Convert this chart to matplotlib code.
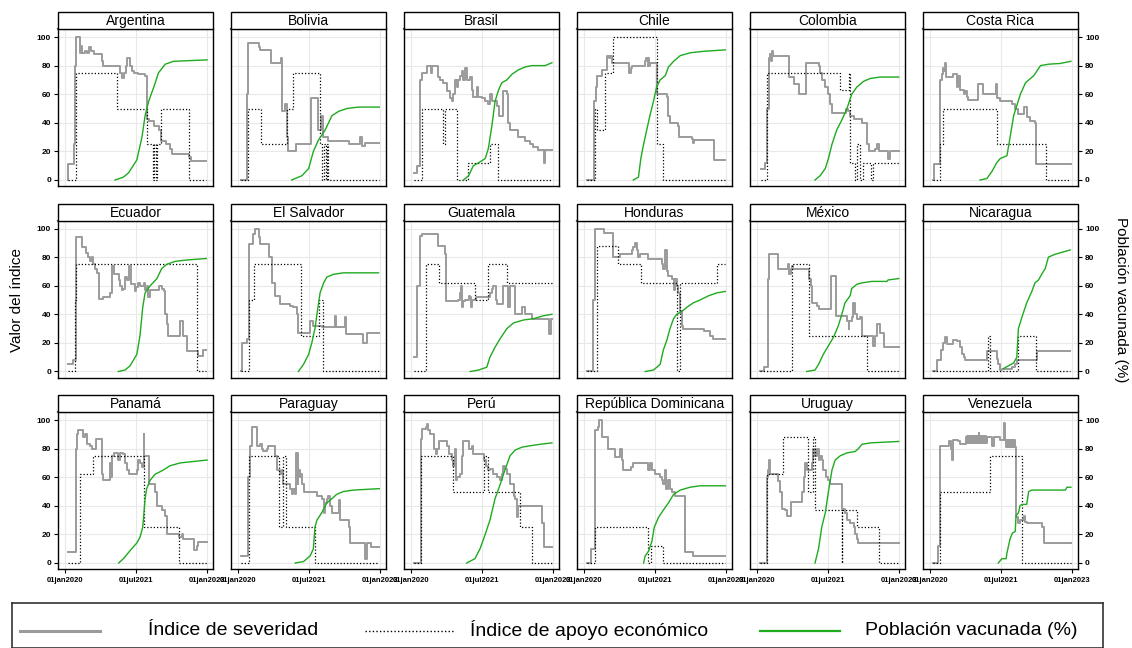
import matplotlib
matplotlib.use("Agg")
import matplotlib.pyplot as plt
from matplotlib.patches import Rectangle

plt.rcParams["font.family"] = ["Liberation Sans", "DejaVu Sans"]

# x values are months since 01jan2020, y values are index / percent
countries = ["Argentina", "Bolivia", "Brasil", "Chile", "Colombia", "Costa Rica",
             "Ecuador", "El Salvador", "Guatemala", "Honduras", "México", "Nicaragua",
             "Panamá", "Paraguay", "Perú", "República Dominicana", "Uruguay", "Venezuela"]
tick_months = [0, 18, 36]
tick_labels = ["01jan2020", "01jul2021", "01jan2023"]
y_ticks = [0, 20, 40, 60, 80, 100]

arg_sev = [(0.8, 0), (0.85, 11), (2.2, 11), (2.35, 25), (2.5, 80), (2.7, 100), (3.8, 100), (3.9, 89), (4.1, 94),
           (4.4, 89), (5.0, 90), (5.5, 89), (6.2, 93), (6.6, 90), (7.4, 88), (9.3, 88), (9.4, 83), (9.7, 80),
           (12.7, 80), (14.0, 75), (14.4, 71), (15.0, 75), (15.4, 80), (15.8, 85), (16.4, 80), (16.9, 76),
           (17.4, 75), (18.6, 74), (20.3, 73), (20.8, 43), (21.2, 41), (22.5, 38), (23.7, 35), (24.2, 27),
           (25.7, 25), (26.7, 22), (27.1, 18), (30.9, 18), (31.4, 16), (31.8, 13), (35.6, 13)]
arg_eco = [(0.8, 0), (2.8, 75), (13.3, 50), (20.8, 25), (22.2, 0), (22.6, 25), (23.0, 0), (23.4, 25),
           (24.2, 50), (31.4, 0), (35.6, 0)]
arg_vac = [(12.7, 0), (14.8, 2), (16.1, 5), (18.2, 14), (19.5, 30), (20.3, 45), (21.2, 55), (22.5, 65),
           (23.7, 75), (25.4, 81), (27.5, 83), (36, 84)]

bol_sev = [(0.76, 0), (2.2, 0), (2.4, 60), (2.6, 96), (4.7, 96), (5.2, 93), (5.6, 91), (8.1, 91), (8.3, 82),
           (10.7, 82), (10.8, 85), (11.1, 48), (11.9, 53), (12.3, 30), (12.7, 20), (14.5, 20), (14.6, 25),
           (18.3, 25), (18.6, 57), (20.0, 57), (20.3, 35), (21.1, 45), (21.6, 30), (22.9, 27), (27.6, 27),
           (28.0, 25), (30.1, 25), (31.0, 30), (31.4, 24), (32.2, 26), (35.8, 26)]
bol_eco = [(0.76, 0), (2.6, 50), (5.8, 25), (12.4, 50), (13.9, 75), (20.8, 25), (21.3, 0), (21.7, 25),
           (22.2, 0), (22.5, 25), (22.9, 0), (35.6, 0)]
bol_vac = [(13.6, 0), (16.2, 3), (17.9, 8), (19.1, 20), (20.4, 28), (22.1, 35), (23.8, 45), (25.5, 48),
           (27.6, 50), (30.5, 51), (35.8, 51)]

bra_sev = [(0.85, 5), (1.4, 10), (2.3, 70), (2.7, 75), (3.6, 75), (4.0, 80), (4.8, 80), (5.0, 75), (5.3, 80),
           (6.5, 80), (6.9, 72), (7.4, 70), (8.2, 68), (9.1, 62), (9.9, 57), (10.3, 55), (10.7, 60), (11.2, 70),
           (11.6, 65), (12.0, 70), (12.4, 73), (12.9, 76), (13.3, 70), (13.7, 78), (14.1, 70), (15.0, 72),
           (15.4, 63), (15.8, 58), (16.3, 58), (16.7, 65), (17.1, 58), (17.9, 57), (18.8, 55), (19.6, 53),
           (20.1, 60), (20.5, 55), (21.3, 55), (21.7, 52), (22.2, 45), (23.0, 45), (23.4, 62), (24.3, 60),
           (24.5, 40), (25.1, 35), (26.4, 35), (27.2, 30), (28.9, 27), (30.2, 25), (31.0, 23), (32.3, 21),
           (33.6, 21), (33.8, 12), (34.0, 21), (35.7, 21)]
bra_eco = [(0.85, 0), (2.7, 50), (8.2, 25), (8.6, 50), (11.6, 0), (14.4, 12), (20.1, 25), (22.1, 0), (35.6, 0)]
bra_vac = [(13.3, 0), (14.6, 3), (15.8, 10), (17.1, 12), (18.8, 15), (19.6, 22), (20.5, 38), (21.3, 55),
           (22.2, 63), (23.0, 68), (24.3, 70), (25.6, 74), (27.2, 77), (28.9, 79), (30.6, 80), (34.0, 80),
           (35.7, 82)]

chi_sev = [(0.7, 0), (2.5, 0), (2.6, 55), (3.0, 65), (3.2, 73), (4.5, 77), (5.8, 78), (5.9, 87), (6.3, 85),
           (6.6, 87), (7.0, 82), (11.0, 82), (11.3, 78), (11.5, 75), (11.8, 78), (12.1, 80), (15.2, 80),
           (15.5, 83), (15.7, 85), (16.1, 80), (16.3, 85), (16.5, 80), (16.8, 82), (18.3, 82), (18.6, 60),
           (21.0, 58), (21.2, 45), (21.8, 40), (23.9, 38), (24.1, 30), (27.3, 29), (27.6, 26), (27.9, 28),
           (32.8, 28), (33.0, 14), (35.8, 14)]
chi_eco = [(0.7, 0), (2.8, 50), (3.2, 35), (5.3, 75), (7.3, 100), (18.6, 25), (20.0, 0), (35.8, 0)]
chi_vac = [(12.5, 0), (13.8, 2), (14.4, 15), (15.1, 25), (15.9, 35), (16.7, 45), (17.6, 55), (18.4, 65),
           (19.3, 70), (20.6, 73), (21.4, 79), (22.7, 83), (24.4, 87), (27, 89), (30.3, 90), (35.8, 91)]

col_sev = [(0.9, 8), (1.8, 8), (2.0, 12), (2.5, 12), (2.6, 50), (3.0, 85), (3.3, 88), (3.6, 83), (3.8, 90),
           (4.1, 87), (8.0, 87), (8.1, 72), (9.4, 72), (9.5, 67), (10.5, 67), (10.7, 60), (12.2, 60), (12.4, 82),
           (15.1, 82), (15.6, 80), (16.0, 75), (16.4, 70), (17.3, 65), (18.1, 60), (18.5, 53), (19.0, 47),
           (22.3, 47), (22.6, 50), (23.0, 48), (23.6, 45), (24.5, 43), (26.1, 43), (26.6, 40), (27.4, 40),
           (27.8, 25), (28.3, 20), (29.9, 22), (30.4, 25), (30.8, 20), (32.9, 20), (33.3, 15), (33.8, 20),
           (35.9, 20)]
col_eco = [(0.9, 0), (2.6, 75), (21.1, 63), (23.4, 75), (23.6, 12), (24.9, 0), (25.4, 25), (26.0, 0),
           (26.8, 12), (29.0, 0), (29.3, 12), (35.9, 12)]
col_vac = [(14.7, 0), (16, 3), (17.3, 8), (18.1, 15), (19, 25), (20.2, 35), (21.5, 42), (22.8, 50), (24, 60),
           (25.3, 65), (27, 69), (28.7, 71), (31.2, 72), (35.9, 72)]

cri_sev = [(0.85, 0), (1.1, 11), (2.3, 11), (2.5, 70), (3.0, 74), (3.2, 78), (3.6, 76), (3.8, 82), (4.1, 72),
           (5.5, 72), (5.9, 74), (6.8, 74), (6.9, 65), (7.2, 73), (7.6, 63), (8.5, 60), (8.9, 62), (9.3, 58),
           (9.7, 56), (11.8, 56), (12.1, 67), (13.1, 67), (13.4, 60), (16.5, 60), (16.8, 67), (17.1, 57),
           (17.8, 55), (19.5, 55), (20.7, 53), (21.6, 50), (22.4, 46), (23.3, 46), (23.7, 51), (24.5, 44),
           (25.4, 41), (26.6, 40), (26.9, 11), (35.7, 11)]
cri_eco = [(0.85, 0), (2.5, 25), (3.2, 50), (16.9, 25), (29.5, 0), (35.4, 0)]
cri_vac = [(12.7, 0), (14.4, 1), (15.7, 6), (16.9, 12), (17.8, 15), (19.5, 17), (20.3, 30), (21.2, 45),
           (22, 52), (22.9, 60), (24.2, 68), (26.3, 73), (28, 80), (30.1, 81), (33, 81.5), (35.7, 83)]

ecu_sev = [(0.85, 5), (1.9, 5), (2.1, 8), (2.5, 8), (2.7, 60), (2.8, 94), (4.2, 94), (4.3, 87), (5.1, 87),
           (5.3, 83), (5.9, 80), (6.3, 77), (6.8, 80), (7.0, 75), (7.6, 72), (8.0, 69), (8.5, 51), (9.7, 52),
           (11.0, 52), (11.3, 55), (11.7, 55), (11.8, 74), (12.3, 68), (13.5, 68), (13.8, 64), (14.0, 60),
           (14.4, 57), (14.8, 58), (15.2, 66), (15.7, 64), (16.1, 74), (16.5, 74), (16.8, 61), (17.8, 56),
           (18.0, 59), (18.4, 62), (19.0, 60), (19.9, 62), (20.3, 57), (20.7, 60), (21.0, 52), (21.6, 57),
           (23.7, 57), (23.9, 60), (24.5, 58), (25.0, 56), (25.4, 40), (25.8, 33), (26.2, 25), (28.8, 25),
           (29.2, 35), (29.6, 35), (29.9, 25), (30.7, 25), (30.9, 14), (33.4, 14), (33.6, 11), (34.7, 11),
           (34.9, 15), (35.8, 15)]
ecu_eco = [(0.85, 0), (2.5, 50), (2.9, 75), (33.4, 0), (35.8, 0)]
ecu_vac = [(13.5, 0), (15.2, 1), (16.5, 4), (18.2, 12), (19, 25), (19.7, 45), (20.3, 55), (21.6, 60),
           (23.3, 65), (24.5, 72), (25.8, 75), (27.9, 77), (30.9, 78), (35.8, 79)]

slv_sev = [(0.7, 0), (0.9, 20), (2.2, 20), (2.4, 23), (2.8, 89), (3.5, 89), (3.9, 96), (4.3, 100), (4.9, 100),
           (5.2, 94), (5.6, 89), (7.7, 89), (7.9, 80), (8.5, 62), (9.4, 53), (10.7, 47), (13.2, 46), (14.0, 45),
           (14.9, 40), (15.3, 27), (17.4, 27), (18.3, 35), (18.7, 35), (19.1, 32), (21.2, 31), (24.2, 31),
           (24.5, 39), (24.9, 31), (26.7, 31), (27.0, 38), (27.3, 26), (31.4, 26), (31.6, 20), (32.5, 20),
           (32.7, 27), (35.6, 27)]
slv_eco = [(0.7, 0), (2.8, 50), (4.0, 75), (15.9, 25), (20.6, 50), (21.6, 0), (35.6, 0)]
slv_vac = [(15.3, 0), (16.6, 5), (17.9, 12), (18.7, 20), (19.5, 30), (20, 40), (20.8, 55), (21.7, 62),
           (22.5, 66), (24.2, 68), (26.7, 69), (35.6, 69)]

gtm_sev = [(0.85, 10), (1.3, 10), (1.4, 60), (2.3, 95), (2.7, 96), (6.5, 96), (6.9, 88), (8.2, 88), (8.6, 82),
           (8.9, 49), (11.6, 49), (12.0, 50), (12.3, 55), (12.6, 60), (12.9, 45), (13.3, 49), (13.7, 50),
           (14.6, 53), (15.0, 52), (15.1, 45), (15.4, 50), (16.2, 50), (16.5, 52), (19.6, 52), (19.9, 55),
           (20.5, 58), (20.7, 60), (21.3, 60), (21.6, 50), (21.7, 47), (23.0, 47), (23.4, 60), (24.3, 60),
           (24.5, 45), (25.1, 60), (26.0, 60), (26.4, 40), (27.7, 40), (28.1, 45), (28.9, 40), (30.2, 40),
           (30.6, 37), (34.4, 37), (34.9, 26), (35.4, 26), (35.5, 37), (35.7, 37)]
gtm_eco = [(0.85, 0), (3.8, 75), (7.2, 62), (16.2, 50), (19.6, 75), (24.3, 62), (36, 62)]
gtm_vac = [(15, 0), (17.1, 1), (19.2, 3), (20, 10), (21.3, 17), (22.6, 23), (24.3, 30), (26, 34), (28.5, 36),
           (31.1, 37), (33.6, 39), (35.7, 40)]

hnd_sev = [(0.85, 0), (2.1, 0), (2.4, 50), (2.8, 100), (4.9, 100), (5.1, 97), (7.0, 97), (7.3, 88), (7.4, 80),
           (8.7, 80), (9.1, 82), (11.7, 82), (12.1, 85), (12.5, 87), (12.9, 90), (13.4, 85), (13.8, 80),
           (14.2, 82), (15.9, 82), (16.3, 79), (19.3, 79), (19.7, 75), (20.1, 72), (20.4, 80), (20.6, 85),
           (21.0, 70), (21.4, 67), (22.3, 65), (22.7, 57), (23.1, 65), (23.5, 60), (23.9, 55), (24.4, 42),
           (24.8, 32), (25.2, 30), (29.4, 30), (30.3, 28), (31.6, 28), (32.0, 25), (32.8, 23), (35.8, 23)]
hnd_eco = [(0.85, 0), (3.2, 88), (8.7, 75), (14.4, 62), (23.6, 0), (24.2, 62), (33.6, 75), (35.7, 75)]
hnd_vac = [(15.5, 0), (17.6, 1), (19.3, 5), (20.1, 15), (21, 22), (21.8, 30), (22.7, 37), (23.5, 40),
           (24.8, 42), (26.1, 45), (27.7, 48), (29.4, 50), (31.6, 53), (33.7, 55), (35.8, 56)]

mex_sev = [(0.8, 0), (1.6, 0), (1.9, 3), (2.5, 3), (2.7, 65), (3.0, 82), (5.0, 82), (5.2, 74), (5.4, 72),
           (7.5, 72), (7.8, 75), (8.2, 68), (8.5, 72), (8.8, 74), (9.2, 72), (13.0, 72), (13.3, 65), (13.7, 60),
           (13.9, 48), (15.1, 46), (15.6, 44), (18.5, 44), (18.8, 67), (19.6, 67), (20.0, 39), (22.3, 39),
           (22.8, 35), (23.2, 30), (23.4, 35), (24.0, 38), (24.4, 48), (24.9, 40), (25.3, 37), (26.1, 38),
           (26.6, 25), (28.3, 25), (29.4, 18), (29.9, 25), (30.4, 33), (31.2, 27), (31.6, 27), (32.1, 17),
           (35.9, 17)]
mex_eco = [(0.8, 0), (8.8, 75), (13.2, 25), (27.8, 0), (35.9, 0)]
mex_vac = [(12.6, 0), (14.7, 1), (15.6, 5), (16.8, 12), (18.1, 18), (19.4, 24), (20.6, 32), (21.5, 40),
           (22.3, 48), (23.6, 53), (24, 58), (25.3, 61), (26.6, 62), (29.1, 63), (32.9, 63), (33.2, 64),
           (35.9, 65)]

nic_sev = [(0.85, 0), (1.7, 0), (1.9, 8), (2.5, 8), (2.8, 15), (3.4, 20), (3.8, 24), (4.2, 19), (5.5, 19),
           (5.9, 22), (6.8, 21), (7.6, 17), (8.0, 12), (8.5, 10), (8.9, 8), (14.0, 8), (14.4, 14), (16.5, 14),
           (16.9, 9), (17.3, 5), (17.8, 1), (18.2, 2), (20.7, 3), (21.6, 5), (22.0, 8), (26.6, 8), (27.1, 14),
           (35.5, 14)]
nic_eco = [(0.85, 0), (14.6, 25), (15.1, 0), (22.4, 25), (26.9, 0), (35.5, 0)]
nic_vac = [(18.6, 2), (19.9, 4), (21.2, 6), (22, 10), (22.4, 30), (23.3, 38), (24.5, 48), (25.8, 56),
           (26.6, 62), (27.5, 64), (28.3, 68), (29.2, 72), (30, 80), (31.7, 82), (35.5, 85)]

pan_sev = [(0.85, 8), (2.5, 8), (2.8, 80), (3.0, 90), (3.4, 93), (4.2, 93), (4.5, 88), (5.1, 90), (5.5, 83),
           (6.3, 82), (6.8, 80), (7.6, 80), (7.8, 87), (9.3, 87), (9.5, 62), (9.7, 58), (11.0, 58), (11.4, 70),
           (11.7, 60), (11.8, 75), (12.3, 77), (13.1, 77), (13.4, 72), (14.0, 77), (14.8, 76), (15.2, 70),
           (15.7, 65), (16.1, 62), (17.8, 62), (18.2, 65), (18.6, 72), (19.0, 70), (19.5, 67), (19.9, 90),
           (20.1, 75), (20.7, 75), (21.2, 55), (22.4, 55), (22.8, 50), (23.3, 40), (24.5, 37), (25.4, 33),
           (25.8, 20), (27.5, 20), (28.8, 18), (29.6, 20), (30.0, 17), (32.1, 17), (32.6, 9), (33.4, 12),
           (33.8, 15), (36.0, 15)]
pan_eco = [(0.85, 0), (3.8, 62), (7.2, 75), (19.9, 25), (28.8, 0), (36.0, 0)]
pan_vac = [(13.6, 0), (14.8, 3), (15.7, 6), (16.9, 10), (18.2, 14), (19, 18), (19.7, 25), (20.3, 45),
           (20.7, 52), (21.6, 58), (22.8, 62), (24.9, 65), (26.6, 68), (29.2, 70), (32.6, 71), (36, 72)]

pry_sev = [(0.7, 5), (2.2, 5), (2.6, 60), (3.0, 82), (3.5, 95), (4.7, 95), (4.9, 82), (5.6, 83), (6.0, 80),
           (6.4, 78), (7.3, 80), (7.7, 82), (9.0, 82), (9.4, 75), (9.8, 65), (10.7, 62), (11.1, 65), (11.5, 55),
           (12.8, 55), (13.2, 52), (13.6, 48), (14.0, 52), (14.5, 48), (14.7, 77), (15.1, 55), (15.3, 65),
           (15.6, 60), (15.9, 62), (16.2, 55), (16.6, 50), (19.5, 50), (20.0, 47), (21.2, 45), (21.7, 35),
           (22.1, 42), (22.5, 45), (22.9, 47), (23.2, 40), (23.8, 35), (25.5, 35), (25.7, 44), (25.9, 30),
           (26.7, 30), (28.0, 25), (28.4, 14), (31.8, 14), (32.2, 3), (32.7, 14), (33.5, 14), (33.7, 11),
           (35.8, 11)]
pry_eco = [(0.7, 0), (2.9, 75), (10.5, 25), (11.3, 75), (12.1, 25), (19.5, 0), (35.8, 0)]
pry_vac = [(14.5, 0), (16.6, 1), (18.3, 5), (19.1, 10), (19.5, 25), (20, 30), (21.2, 35), (22.5, 42),
           (23.8, 45), (25, 48), (26.7, 50), (29.3, 51), (35.8, 52)]

per_sev = [(0.85, 0), (2.3, 0), (2.5, 87), (2.7, 94), (3.8, 95), (4.1, 97), (4.4, 93), (4.8, 90), (5.7, 90),
           (5.9, 80), (6.3, 76), (6.7, 80), (7.2, 85), (8.2, 85), (9.1, 82), (9.7, 76), (10.3, 72), (10.7, 68),
           (11.2, 80), (11.4, 58), (11.6, 60), (12.4, 62), (12.9, 75), (13.3, 85), (14.1, 85), (14.6, 80),
           (15.4, 82), (15.8, 76), (17.9, 76), (18.4, 72), (19.0, 68), (19.6, 65), (20.1, 66), (20.9, 62),
           (21.7, 60), (22.6, 58), (23.0, 62), (23.4, 68), (23.9, 66), (24.3, 62), (25.1, 55), (26.0, 47),
           (26.4, 45), (26.8, 32), (27.2, 40), (32.7, 40), (33.2, 28), (33.6, 28), (33.8, 11), (35.7, 11)]
per_eco = [(0.85, 0), (2.5, 75), (10.6, 50), (18.4, 75), (19.5, 50), (27.7, 25), (30.6, 0), (35.7, 0)]
per_vac = [(14.1, 0), (16.2, 3), (17.5, 10), (18.8, 20), (20, 30), (21.3, 45), (22.6, 55), (23.8, 65),
           (25.1, 75), (26.4, 79), (28.1, 81), (30.2, 82), (32.7, 83), (35.7, 84)]

dom_sev = [(0.85, 0), (1.9, 10), (2.8, 93), (3.6, 95), (3.9, 100), (4.3, 100), (4.5, 88), (6.2, 80), (7.4, 80),
           (7.9, 74), (8.7, 74), (9.0, 80), (9.6, 72), (10.0, 65), (11.7, 65), (11.9, 67), (12.5, 70),
           (15.9, 70), (16.3, 65), (16.6, 70), (17.2, 65), (18.0, 62), (19.3, 60), (19.7, 58), (20.1, 55),
           (20.4, 65), (20.8, 52), (21.2, 58), (21.7, 52), (22.3, 50), (23.1, 47), (25.2, 47), (25.5, 8),
           (27.3, 8), (27.7, 5), (35.8, 5)]
dom_eco = [(0.85, 0), (2.8, 25), (16.1, 0), (16.9, 12), (20.1, 0), (35.7, 0)]
dom_vac = [(15.1, 0), (15.5, 5), (16.3, 8), (17.2, 15), (17.8, 25), (18.9, 32), (20.1, 37), (21.4, 42),
           (22.7, 48), (24.4, 51), (26.9, 53), (29.4, 54), (35.8, 54)]

ury_sev = [(0.85, 0), (2.3, 0), (2.5, 60), (2.7, 62), (2.9, 65), (3.1, 72), (3.3, 62), (5.0, 62), (5.4, 57),
           (5.8, 50), (6.3, 38), (7.1, 37), (7.5, 33), (8.4, 33), (8.5, 43), (10.9, 43), (11.3, 50), (11.8, 60),
           (12.2, 70), (12.6, 65), (13.5, 65), (13.9, 70), (14.3, 80), (14.7, 75), (15.1, 80), (15.6, 72),
           (16.0, 75), (16.4, 72), (16.8, 65), (17.5, 60), (17.9, 58), (18.5, 55), (21.1, 55), (21.5, 38),
           (22.3, 35), (22.8, 30), (23.6, 28), (24.5, 25), (24.9, 20), (25.3, 17), (25.7, 14), (35.9, 14)]
ury_eco = [(0.85, 0), (2.5, 62), (6.7, 88), (13.0, 50), (14.2, 88), (14.7, 37), (21.5, 0), (21.6, 37),
           (25.3, 25), (30.8, 0), (35.9, 0)]
ury_vac = [(14.7, 0), (15.6, 10), (16.4, 25), (17.3, 35), (18.1, 50), (19, 65), (19.8, 72), (21.1, 75),
           (22.8, 77), (24.9, 78), (25.7, 80), (26.6, 83), (28.7, 84), (35.9, 85)]

ven_sev = [(0.85, 0), (1.7, 0), (2.1, 12), (2.5, 82), (4.7, 82), (4.9, 85), (5.2, 80), (5.5, 72), (5.8, 86),
           (6.8, 86), (7.2, 85), (7.6, 83), (8.9, 83), (9.1, 88), (9.3, 84), (9.5, 89), (9.7, 84), (9.9, 89),
           (10.1, 84), (10.3, 89), (10.5, 84), (10.7, 89), (10.9, 84), (11.1, 89), (11.3, 84), (11.5, 89),
           (11.7, 84), (11.9, 89), (12.1, 84), (12.3, 91), (12.5, 84), (12.7, 89), (12.9, 84), (13.1, 89),
           (13.3, 84), (13.5, 89), (13.7, 84), (13.9, 89), (14.1, 84), (14.4, 88), (15.7, 82), (16.1, 88),
           (17.8, 86), (18.8, 98), (19.0, 86), (19.2, 81), (19.4, 86), (19.6, 81), (19.8, 86), (20.0, 81),
           (20.2, 86), (20.4, 81), (20.6, 86), (20.8, 81), (21.0, 86), (21.2, 81), (21.4, 86), (21.6, 81),
           (21.8, 32), (22.2, 28), (22.8, 30), (23.7, 33), (24.1, 29), (24.5, 28), (27.9, 28), (28.3, 25),
           (28.8, 14), (35.7, 14)]
ven_eco = [(0.85, 0), (2.5, 50), (15.1, 75), (23.3, 0), (35.7, 0)]
ven_vac = [(17.3, 0), (18.2, 3), (19.3, 3), (19.5, 7), (19.9, 12), (20.3, 17), (20.9, 21), (21.6, 22),
           (21.8, 33), (22.4, 35), (22.8, 40), (23.3, 41), (24.5, 41), (25, 50), (25.8, 51), (34.3, 51),
           (34.7, 53), (35.7, 53)]

severity = [arg_sev, bol_sev, bra_sev, chi_sev, col_sev, cri_sev, ecu_sev, slv_sev, gtm_sev,
            hnd_sev, mex_sev, nic_sev, pan_sev, pry_sev, per_sev, dom_sev, ury_sev, ven_sev]
support = [arg_eco, bol_eco, bra_eco, chi_eco, col_eco, cri_eco, ecu_eco, slv_eco, gtm_eco,
           hnd_eco, mex_eco, nic_eco, pan_eco, pry_eco, per_eco, dom_eco, ury_eco, ven_eco]
vaccinated = [arg_vac, bol_vac, bra_vac, chi_vac, col_vac, cri_vac, ecu_vac, slv_vac, gtm_vac,
              hnd_vac, mex_vac, nic_vac, pan_vac, pry_vac, per_vac, dom_vac, ury_vac, ven_vac]

GRAY = "#9b9b9b"
GREEN = "#1faa1f"
W, H = 1132, 648

fig = plt.figure(figsize=(W / 100, H / 100), dpi=100)

panel_w, panel_h, head_h = 155, 157, 17
row_tops = [29, 220.5, 412]

for i, name in enumerate(countries):
    r, c = divmod(i, 6)
    left = 58 + 173 * c
    top = row_tops[r]
    ax = fig.add_axes([left / W, 1 - (top + panel_h) / H, panel_w / W, panel_h / H])

    sx, sy = zip(*severity[i])
    ex, ey = zip(*support[i])
    vx, vy = zip(*vaccinated[i])
    ax.plot(sx, sy, color=GRAY, lw=1.4, drawstyle="steps-post", zorder=3)
    ax.plot(ex, ey, color="black", lw=0.9, ls=(0, (1, 1.6)), drawstyle="steps-post", zorder=4)
    ax.plot(vx, vy, color=GREEN, lw=1.0, zorder=5)

    ax.set_xlim(-1.77, 37.5)
    ax.set_ylim(-4.2, 105.6)
    ax.set_xticks(tick_months)
    ax.set_yticks(y_ticks)
    ax.grid(True, color="#e9e9e9", lw=0.8, zorder=0)
    ax.set_axisbelow(True)
    ax.tick_params(length=0, labelleft=False, labelbottom=False)
    for sp in ax.spines.values():
        sp.set_color("black")
        sp.set_linewidth(1.0)
    ax.spines["top"].set_color("#555555")
    ax.spines["top"].set_linewidth(1.6)

    if c == 0:
        ax.tick_params(axis="y", left=True, length=3, width=0.8, labelleft=True,
                       labelsize=6, pad=2)
    if c == 5:
        ax.yaxis.tick_right()
        ax.tick_params(axis="y", right=True, left=False, length=3, width=0.8,
                       labelright=True, labelsize=6, pad=2)
    if r == 2:
        ax.set_xticklabels(tick_labels)
        ax.tick_params(axis="x", bottom=True, length=3, width=0.8, labelbottom=True,
                       labelsize=5.5, pad=3)
    for lab in ax.get_xticklabels() + ax.get_yticklabels():
        lab.set_fontweight("bold")

    # facet header
    hh = head_h / panel_h
    ax.add_patch(Rectangle((0, 1), 1, hh, transform=ax.transAxes, facecolor="white",
                           edgecolor="black", lw=1.0, clip_on=False, zorder=10))
    ax.text(0.5, 1 + hh / 2 - 0.004, name, transform=ax.transAxes, ha="center", va="center",
            fontsize=10, zorder=11)

fig.text(17 / W, 1 - 300 / H, "Valor del índice", rotation=90, ha="center", va="center", fontsize=11)
fig.text(1121 / W, 1 - 300 / H, "Población vacunada (%)", rotation=270, ha="center", va="center",
         fontsize=11)

# legend box
lg = fig.add_axes([12 / W, 0.5 / H, 1091 / W, 44.5 / H])
lg.set_xlim(0, 1091)
lg.set_ylim(0, 44.5)
lg.set_xticks([])
lg.set_yticks([])
for sp in lg.spines.values():
    sp.set_color("#333333")
    sp.set_linewidth(1.2)
ly = 17
lg.plot([8, 88], [ly, ly], color=GRAY, lw=2.2)
lg.text(136, ly, "Índice de severidad", fontsize=14, va="center", ha="left")
lg.plot([353, 443], [ly, ly], color="black", lw=1.0, ls=(0, (1, 1.6)))
lg.text(458, ly, "Índice de apoyo económico", fontsize=14, va="center", ha="left")
lg.plot([748, 828], [ly, ly], color=GREEN, lw=1.6)
lg.text(853, ly, "Población vacunada (%)", fontsize=14, va="center", ha="left")

fig.savefig("out.png", dpi=100)
